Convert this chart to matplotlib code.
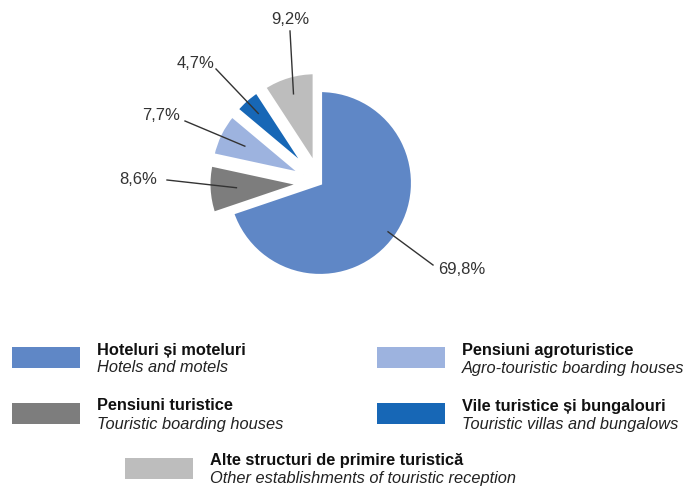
import numpy as np
import matplotlib
matplotlib.use("Agg")
from matplotlib import pyplot as plt
from matplotlib.patches import Rectangle

# data
names_ro = ["Hoteluri și moteluri", "Pensiuni turistice", "Pensiuni agroturistice",
            "Vile turistice și bungalouri", "Alte structuri de primire turistică"]
names_en = ["Hotels and motels", "Touristic boarding houses", "Agro-touristic boarding houses",
            "Touristic villas and bungalows", "Other establishments of touristic reception"]
shares = [69.8, 8.6, 7.7, 4.7, 9.2]
labels = ["69,8%", "8,6%", "7,7%", "4,7%", "9,2%"]
colors = ["#5f87c6", "#7d7d7d", "#9db3df", "#1767b6", "#bdbdbd"]

W, H = 687, 487

fig = plt.figure(figsize=(W / 100, H / 100), dpi=100)
ax = fig.add_axes([0, 0, 1, 1])

cx, cy, R = 320, H - 183, 93
# explode is in data units here (pixels), so scale it by the radius
explode = [0] + [0.2 * R] * 4
wedges, _ = ax.pie(shares, colors=colors, startangle=90, counterclock=False,
                   explode=explode, center=(cx, cy), radius=R,
                   wedgeprops=dict(edgecolor="white", linewidth=3))
ax.set_xlim(0, W)
ax.set_ylim(0, H)
ax.set_aspect("equal")
ax.axis("off")

# label text positions (pixels from top-left) and how deep the line goes into the wedge
text_pos = [(462, 270), (138, 179), (161, 116), (196, 64), (290, 19)]
line_start = [(433, 265), (167, 180), (185, 121), (216, 69), (290, 31)]
depth = [0.9, 0.7, 0.7, 0.8, 0.8]
for w, lab, tp, ls, d in zip(wedges, labels, text_pos, line_start, depth):
    mid = np.deg2rad((w.theta1 + w.theta2) / 2)
    ox, oy = w.center
    px = ox + d * R * np.cos(mid)
    py = oy + d * R * np.sin(mid)
    ax.plot([ls[0], px], [H - ls[1], py], color="#333333", lw=1)
    ax.text(tp[0], H - tp[1], lab, ha="center", va="center", fontsize=12,
            color="#333333", family="Liberation Sans")

# legend
leg_pos = [(12, 347), (12, 403), (377, 347), (377, 403), (125, 458)]
for (x, y), c, ro, en in zip(leg_pos, colors, names_ro, names_en):
    ax.add_patch(Rectangle((x, H - y - 21), 68, 21, facecolor=c, edgecolor="none"))
    ax.text(x + 85, H - y - 3, ro, ha="left", va="center", fontsize=11.8,
            fontweight="bold", color="#111111", family="Liberation Sans")
    ax.text(x + 85, H - y - 21, en, ha="left", va="center", fontsize=11.8,
            fontstyle="italic", color="#222222", family="Liberation Sans")

fig.savefig("out.png", dpi=100)
